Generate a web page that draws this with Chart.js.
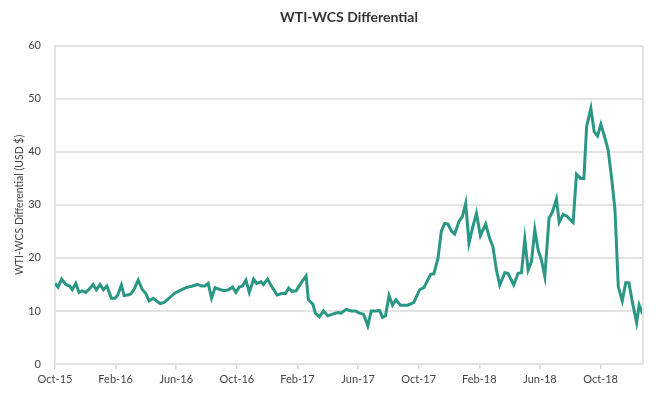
<!DOCTYPE html>
<html>
<head>
<meta charset="utf-8">
<script src="https://cdn.jsdelivr.net/npm/chart.js@4.4.2/dist/chart.umd.min.js"></script>
<style>
  html, body { margin: 0; padding: 0; background: #fff; }
  #wrap { width: 657px; height: 395px; }
</style>
</head>
<body>
<div id="wrap"><canvas id="chart"></canvas></div>
<script>
// ---------- DATA ----------
// x = months since Oct-2015, y = WTI-WCS differential (USD/bbl)
const tickMonths = [0, 4, 8, 12, 16, 20, 24, 28, 32, 36];
const tickLabels = ["Oct-15", "Feb-16", "Jun-16", "Oct-16", "Feb-17", "Jun-17", "Oct-17", "Feb-18", "Jun-18", "Oct-18"];

const monthPos = [
  0.00, 0.20, 0.44, 0.71, 0.97, 1.14, 1.37, 1.59, 1.80, 2.03,
  2.25, 2.51, 2.73, 2.97, 3.19, 3.42, 3.72, 3.97, 4.14, 4.38,
  4.56, 4.78, 5.00, 5.22, 5.49, 5.77, 5.99, 6.21, 6.48, 6.70,
  6.94, 7.20, 7.53, 7.87, 8.20, 8.64, 9.07, 9.41, 9.67, 9.89,
  10.11, 10.33, 10.56, 10.84, 11.17, 11.45, 11.72, 11.94, 12.16, 12.38,
  12.60, 12.82, 13.11, 13.30, 13.60, 13.75, 14.03, 14.32, 14.65, 14.96,
  15.20, 15.42, 15.64, 15.91, 16.24, 16.57, 16.72, 17.01, 17.18, 17.45,
  17.71, 18.00, 18.33, 18.66, 18.88, 19.21, 19.54, 19.83, 20.09, 20.36,
  20.64, 20.87, 21.20, 21.41, 21.61, 21.81, 22.04, 22.27, 22.50, 22.80,
  23.28, 23.68, 24.06, 24.34, 24.79, 25.00, 25.27, 25.49, 25.71, 25.93,
  26.15, 26.37, 26.66, 26.88, 27.10, 27.32, 27.58, 27.81, 28.07, 28.42,
  28.68, 28.90, 29.13, 29.35, 29.68, 29.89, 30.27, 30.56, 30.78, 31.00,
  31.22, 31.44, 31.66, 31.88, 32.10, 32.32, 32.60, 32.83, 33.09, 33.27,
  33.53, 33.76, 33.97, 34.19, 34.41, 34.68, 34.90, 35.08, 35.36, 35.58,
  35.80, 36.02, 36.29, 36.50, 36.73, 36.95, 37.17, 37.43, 37.66, 37.87,
  38.09, 38.38, 38.55, 38.78
];

const differential = [
  15.2, 14.5, 16.0, 15.0, 14.7, 14.0, 15.2, 13.5, 13.8, 13.5,
  14.1, 15.0, 14.0, 15.0, 14.0, 14.7, 12.4, 12.4, 13.0, 14.9,
  12.9, 13.0, 13.2, 14.1, 15.8, 14.0, 13.3, 11.9, 12.4, 11.9,
  11.4, 11.6, 12.4, 13.3, 13.8, 14.4, 14.7, 15.0, 14.7, 14.7,
  15.2, 12.4, 14.4, 14.1, 13.8, 14.0, 14.5, 13.5, 14.5, 14.7,
  15.8, 13.5, 16.0, 15.2, 15.5, 15.0, 16.0, 14.5, 13.0, 13.3,
  13.3, 14.3, 13.7, 13.8, 15.3, 16.6, 12.1, 11.3, 9.6, 8.9,
  10.0, 9.1, 9.4, 9.7, 9.6, 10.3, 10.0, 10.0, 9.6, 9.4,
  7.2, 10.0, 10.0, 10.1, 8.8, 9.1, 12.9, 11.1, 12.1, 11.1,
  11.1, 11.6, 14.0, 14.4, 16.9, 17.0, 19.9, 25.0, 26.5, 26.4,
  25.1, 24.5, 26.9, 27.8, 30.3, 22.8, 26.0, 28.4, 24.2, 26.4,
  23.7, 22.1, 17.7, 14.9, 17.2, 17.1, 14.9, 17.1, 17.2, 23.5,
  17.7, 19.3, 25.3, 21.5, 19.6, 16.5, 27.5, 28.7, 31.1, 26.7,
  28.2, 27.9, 27.3, 26.7, 35.8, 35.0, 35.0, 44.8, 48.2, 43.8,
  43.0, 45.2, 42.6, 40.4, 35.0, 29.1, 14.6, 11.9, 15.3, 15.3,
  11.8, 7.8, 11.1, 9.4
];

// ---------- STYLE ----------
const LINE_COLOR = "#2a9784";
const GRID_COLOR = "#e3e3e3";
const TEXT_COLOR = "#444";
const FONT = "Lato, 'Open Sans', sans-serif";

// light frame on the right side of the plot area
const frame = {
  id: "frame",
  afterDraw(chart) {
    const { ctx, chartArea: a } = chart;
    ctx.save();
    ctx.strokeStyle = GRID_COLOR;
    ctx.lineWidth = 2;
    ctx.beginPath();
    ctx.moveTo(a.right, a.top);
    ctx.lineTo(a.right, a.bottom);
    ctx.stroke();
    ctx.restore();
  }
};

new Chart(document.getElementById("chart"), {
  type: "line",
  data: {
    datasets: [{
      data: monthPos.map((m, i) => ({ x: m, y: differential[i] })),
      borderColor: LINE_COLOR,
      borderWidth: 3,
      pointRadius: 0,
      tension: 0,
      fill: false
    }]
  },
  options: {
    responsive: true,
    maintainAspectRatio: false,
    animation: false,
    layout: { padding: { left: 0, right: 14, top: 0, bottom: 0 } },
    plugins: {
      legend: { display: false },
      tooltip: { enabled: false },
      title: {
        display: true,
        fullSize: false,
        text: "WTI-WCS Differential",
        color: "#333",
        font: { family: FONT, size: 14, weight: "bold" },
        padding: { top: 9, bottom: 20 }
      }
    },
    scales: {
      x: {
        type: "linear",
        min: 0,
        max: 38.8,
        afterBuildTicks: s => { s.ticks = tickMonths.map(v => ({ value: v })); },
        afterFit: s => { s.height = 31; },
        ticks: {
          color: TEXT_COLOR,
          font: { family: FONT, size: 11 },
          padding: 4,
          maxRotation: 0,
          callback: (v, i) => tickLabels[i]
        },
        grid: { drawOnChartArea: false, drawTicks: true, tickLength: 5, color: "#d6d6d6", lineWidth: 1.5 },
        border: { color: GRID_COLOR, width: 2 }
      },
      y: {
        min: 0,
        max: 60,
        afterFit: s => { s.width = 55; },
        ticks: {
          stepSize: 10,
          color: TEXT_COLOR,
          font: { family: FONT, size: 11 },
          padding: 14
        },
        grid: { color: GRID_COLOR, lineWidth: 2, drawTicks: false },
        border: { color: GRID_COLOR, width: 2 },
        title: {
          display: true,
          text: "WTI-WCS Differential (USD $)",
          color: TEXT_COLOR,
          font: { family: FONT, size: 10.5 },
          padding: { top: 13, bottom: 0 }
        }
      }
    }
  },
  plugins: [frame]
});
</script>
</body>
</html>
